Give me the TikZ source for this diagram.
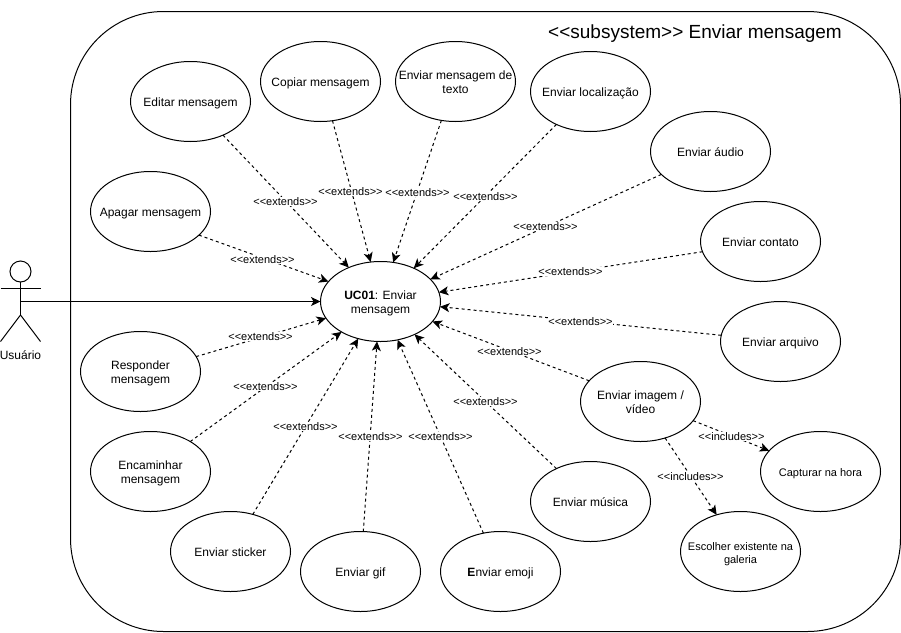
\documentclass[tikz,border=0pt]{standalone}
\usepackage{fontspec}
\setmainfont{Liberation Sans}
\usetikzlibrary{arrows.meta,shapes.geometric}
\newcommand{\extlbl}{{<}{<}extends{>}{>}}
\newcommand{\inclbl}{{<}{<}includes{>}{>}}
\tikzset{
  usecase/.style={draw=black,fill=white,ellipse,minimum width=120pt,minimum height=80pt,inner xsep=-40pt,inner ysep=-14pt,outer sep=0pt,align=center,font=\fontsize{12}{14}\selectfont,line width=1pt,text height=12.4pt,text depth=2.6pt},
  twolines/.style={text height=25.6pt,text depth=2.6pt},
  smallcase/.style={usecase,font=\fontsize{11}{13}\selectfont},
  relation/.style={draw=black,line width=1pt,dash pattern=on 3pt off 3pt,-{Stealth[length=9.5pt,width=9pt,inset=2.5pt]}},
  assoc/.style={draw=black,line width=1pt,-{Stealth[length=9.5pt,width=9pt,inset=2.5pt]}},
  rellabel/.style={fill=white,inner sep=0.5pt,font=\fontsize{11}{13}\selectfont},
  stick/.style={draw=black,line width=1pt},
}
\begin{document}
\begin{tikzpicture}[x=1pt,y=-1pt]
\useasboundingbox (0,0) rectangle (901,632);
\fill[white] (0,0) rectangle (901,632);
\draw[line width=1pt,rounded corners=93pt] (70.5,11.5) rectangle (900.5,631.5);
\node[anchor=base east,font=\fontsize{19}{23}\selectfont,inner sep=0pt] (title) at (842,38) {{<}{<}subsystem{>}{>} Enviar mensagem};

\node[usecase,twolines] (uc) at (380.5,301.5) {\textbf{UC01}: Enviar\\mensagem};
\node[usecase] (editar) at (190.5,101.5) {Editar mensagem};
\node[usecase] (copiar) at (320.5,81.5) {Copiar mensagem};
\node[usecase,twolines] (texto) at (455.5,81.5) {Enviar mensagem de\\texto};
\node[usecase] (local) at (590.5,91.5) {Enviar localização};
\node[usecase] (audio) at (710.5,151.5) {Enviar áudio};
\node[usecase] (contato) at (760.5,241.5) {Enviar contato};
\node[usecase] (arquivo) at (780.5,341.5) {Enviar arquivo};
\node[usecase,twolines] (imagem) at (640.5,401.5) {Enviar imagem /\\vídeo};
\node[smallcase] (capturar) at (820.5,471.5) {Capturar na hora};
\node[smallcase,twolines] (escolher) at (740.5,551.5) {Escolher existente na\\galeria};
\node[usecase] (musica) at (590.5,501.5) {Enviar música};
\node[usecase] (emoji) at (500.5,571.5) {\textbf{E}nviar emoji};
\node[usecase] (gif) at (360.5,571.5) {Enviar gif};
\node[usecase] (sticker) at (230.5,551.5) {Enviar sticker};
\node[usecase,twolines] (encaminhar) at (150.5,471.5) {Encaminhar\\mensagem};
\node[usecase,twolines] (responder) at (140.5,371.5) {Responder\\mensagem};
\node[usecase] (apagar) at (150.5,211.5) {Apagar mensagem};

% actor
\node[draw=black,fill=white,circle,minimum size=21pt,inner sep=0pt,outer sep=0pt,line width=1pt] (head) at (20.5,271.5) {};
\coordinate (actor) at (20.5,301.5);
\coordinate (hip) at (20.5,315);
\coordinate (armL) at (0.5,288);
\coordinate (armR) at (40.5,288);
\coordinate (legL) at (0.5,341.5);
\coordinate (legR) at (40.5,341.5);
\draw[stick] (head.south) -- (hip);
\draw[stick] (armL) -- (armR);
\draw[stick] (legL) -- (hip) -- (legR);
\node[font=\fontsize{12}{14}\selectfont,inner sep=0pt] (usuario) at (20.5,355) {Usuário};
\draw[assoc] (actor) -- (uc.west);

% relations
\draw[relation] (editar.-46.7) -- (uc.133.3);
\draw[relation] (copiar.-73.8) -- (uc.104.5);
\draw[relation] (texto.-110.2) -- (uc.72.4);
\draw[relation] (local.-136.7) -- (uc.45);
\draw[relation] (audio.-155.6) -- (uc.24);
\draw[relation] (contato.-170.6) -- (uc.9.1);
\draw[relation] (arquivo.174.7) -- (uc.-5.2);
\draw[relation] (imagem.158.7) -- (uc.-21);
\draw[relation] (musica.136.7) -- (uc.-44);
\draw[relation] (emoji.114.4) -- (uc.-66);
\draw[relation] (gif.86.4) -- (uc.-95);
\draw[relation] (sticker.59) -- (uc.-121);
\draw[relation] (encaminhar.37) -- (uc.-142);
\draw[relation] (responder.15.6) -- (uc.-163);
\draw[relation] (apagar.-26.3) -- (uc.159.6);
\draw[relation] (imagem.-20.4) -- (capturar.158.3);
\draw[relation] (imagem.-56.8) -- (escolher.123.2);

% labels
\node[rellabel] (l1) at (285.5,201.5) {\extlbl};
\node[rellabel] (l2) at (350.5,191.5) {\extlbl};
\node[rellabel] (l3) at (417.5,192.5) {\extlbl};
\node[rellabel] (l4) at (485.5,196.5) {\extlbl};
\node[rellabel] (l5) at (545.5,226.5) {\extlbl};
\node[rellabel] (l6) at (570.5,271.5) {\extlbl};
\node[rellabel] (l7) at (580.5,321.5) {\extlbl};
\node[rellabel] (l8) at (509.5,351.5) {\extlbl};
\node[rellabel] (l9) at (485.5,401.5) {\extlbl};
\node[rellabel] (l10) at (440.5,436.5) {\extlbl};
\node[rellabel] (l11) at (370.5,436.5) {\extlbl};
\node[rellabel] (l12) at (305.5,426.5) {\extlbl};
\node[rellabel] (l13) at (265.5,386.5) {\extlbl};
\node[rellabel] (l14) at (260.5,336.5) {\extlbl};
\node[rellabel] (l15) at (262.5,259.5) {\extlbl};
\node[rellabel] (l16) at (731.5,436.5) {\inclbl};
\node[rellabel] (l17) at (690.5,476.5) {\inclbl};
\end{tikzpicture}
\end{document}
